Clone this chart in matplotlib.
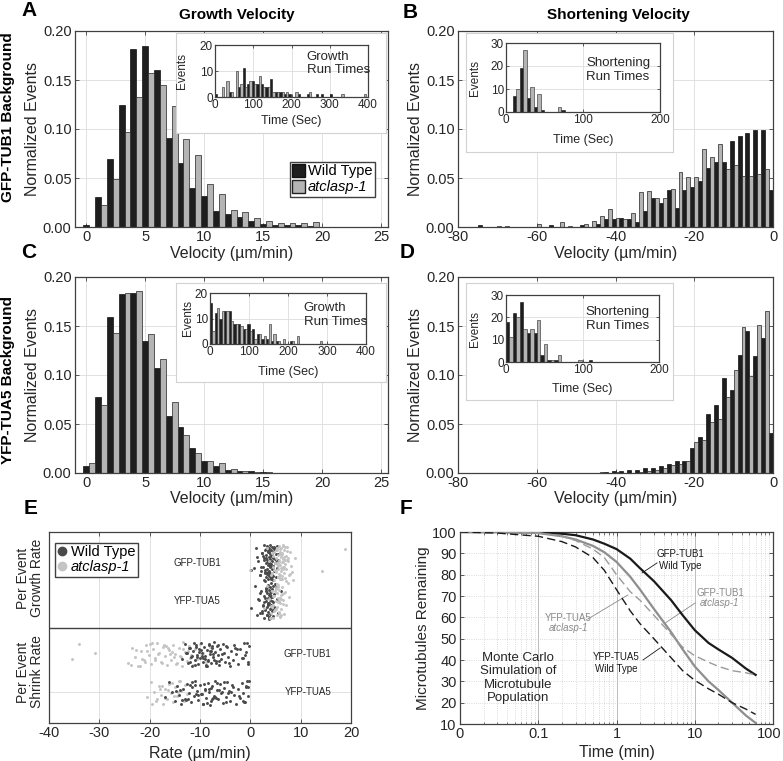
import numpy as np
import matplotlib
matplotlib.use('Agg')
import matplotlib.pyplot as plt
import matplotlib.transforms as mtransforms
from matplotlib.patches import Patch
from matplotlib.lines import Line2D

plt.rcParams['font.family'] = ['Liberation Sans', 'DejaVu Sans']
plt.rcParams['axes.unicode_minus'] = False

W, H = 783, 761

# ---- data ----
growth_bins = np.arange(25)
gfp_growth_wt = [0.002, 0.031, 0.069, 0.124, 0.182, 0.185, 0.160, 0.091, 0.065, 0.040, 0.032, 0.016, 0.013,
                 0.010, 0.006, 0.003, 0.002, 0.002, 0.002, 0.001, 0, 0, 0, 0, 0]
gfp_growth_mut = [0, 0.022, 0.049, 0.097, 0.133, 0.157, 0.145, 0.123, 0.090, 0.073, 0.044, 0.034, 0.017,
                  0.015, 0.009, 0.006, 0.004, 0.004, 0.004, 0.005, 0, 0, 0, 0, 0]
yfp_growth_wt = [0.007, 0.078, 0.159, 0.183, 0.184, 0.135, 0.107, 0.058, 0.047, 0.026, 0.012, 0.007, 0.003,
                 0.002, 0.002, 0.001, 0.0005, 0, 0.0005, 0, 0.0005, 0, 0, 0, 0]
yfp_growth_mut = [0.010, 0.069, 0.143, 0.184, 0.186, 0.142, 0.116, 0.072, 0.039, 0.020, 0.012, 0.010, 0.004,
                  0.002, 0.001, 0.001, 0, 0, 0, 0, 0, 0, 0, 0, 0]

shrink_bins = np.arange(0, -80, -2)
gfp_shrink_wt = [0.038, 0.099, 0.099, 0.096, 0.093, 0.088, 0.066, 0.066, 0.060, 0.047, 0.041, 0.038, 0.019,
                 0.038, 0.025, 0.030, 0.016, 0.005, 0.008, 0.009, 0.008, 0.008, 0.003, 0, 0.002, 0, 0, 0,
                 0.002, 0, 0, 0, 0, 0, 0, 0, 0, 0.002, 0, 0]
gfp_shrink_mut = [0, 0.059, 0.054, 0.052, 0.052, 0.063, 0.059, 0.085, 0.071, 0.080, 0.051, 0.051, 0.056,
                  0.039, 0.030, 0.030, 0.037, 0.036, 0.014, 0.008, 0.009, 0.018, 0.011, 0.006, 0.003, 0,
                  0.001, 0.005, 0, 0, 0.003, 0, 0, 0, 0.001, 0.001, 0, 0, 0, 0]
yfp_shrink_wt = [0.041, 0.138, 0.119, 0.145, 0.120, 0.085, 0.097, 0.069, 0.060, 0.037, 0.026, 0.012, 0.012,
                 0.009, 0.007, 0.005, 0.005, 0.003, 0.003, 0.002, 0.002, 0.001, 0, 0, 0, 0, 0, 0, 0, 0,
                 0, 0, 0, 0, 0, 0, 0, 0, 0, 0]
yfp_shrink_mut = [0, 0.165, 0.151, 0.099, 0.149, 0.105, 0.078, 0.055, 0.052, 0.034, 0.032, 0.012, 0.009,
                  0.008, 0.005, 0.003, 0.002, 0.001, 0, 0, 0.001, 0, 0.001, 0, 0, 0, 0, 0, 0, 0,
                  0, 0, 0, 0, 0, 0, 0, 0, 0, 0]

# run time insets (events per bin)
growth_run_bin = 12
shrink_run_bin = 9
gfp_grun_wt = [1, 0, 0, 2, 0, 4, 11, 5, 6, 5, 5, 4, 7, 2, 2, 1, 1, 0, 1, 0, 1, 0, 1, 1, 0, 1, 0, 0, 0, 0, 0, 0, 0]
gfp_grun_mut = [0, 4, 6, 2, 10, 5, 4, 6, 5, 8, 4, 4, 2, 2, 2, 2, 0, 2, 0, 0, 2, 0, 0, 0, 0, 0, 0, 1, 0, 0, 0, 0, 1]
yfp_grun_wt = [16, 12, 10, 13, 13, 8, 8, 6, 8, 6, 4, 2, 2, 1, 1, 0, 0, 1, 0, 0, 0, 0, 0, 0, 0, 0, 0, 0, 0, 0, 0, 0, 0]
yfp_grun_mut = [5, 14, 13, 13, 9, 8, 7, 6, 5, 2, 4, 3, 8, 4, 1, 2, 0, 1, 3, 0, 0, 0, 0, 1, 0, 0, 0, 0, 0, 0, 0, 0, 0]
gfp_srun_wt = [0, 7, 19, 6, 2, 1, 0, 0, 1, 0, 0, 0, 0, 0, 0, 0, 0, 0, 0, 0, 0, 0]
gfp_srun_mut = [0, 10, 27, 11, 8, 0, 0, 2, 0, 0, 0, 0, 0, 0, 0, 0, 0, 0, 0, 0, 0, 0]
yfp_srun_wt = [18, 22, 27, 13, 13, 3, 1, 1, 0, 0, 0, 0, 1, 0, 0, 0, 0, 0, 0, 0, 0, 0]
yfp_srun_mut = [11, 20, 15, 15, 19, 8, 1, 3, 0, 0, 1, 0, 0, 0, 0, 0, 0, 0, 0, 0, 0, 0]

# per event rates (panel E)
e_gfp_grow_wt = [0.2, 1.1, 1.6, 2.0, 2.3, 2.5, 2.7, 2.8, 2.9, 3.0, 3.1, 3.2, 3.2, 3.3, 3.4, 3.4, 3.5, 3.5, 3.6,
                 3.6, 3.7, 3.7, 3.8, 3.8, 3.8, 3.9, 3.9, 4.0, 4.0, 4.0, 4.1, 4.1, 4.2, 4.2, 4.3, 4.3, 4.4, 4.4,
                 4.5, 4.5, 4.6, 4.6, 4.7, 4.8, 4.9, 5.0, 5.1, 5.2, 5.3, 5.5, 3.3, 3.6, 3.9, 4.2, 2.6, 3.0, 4.8,
                 5.0, 1.9, 2.4, 2.2, 2.9, 3.1, 3.5, 3.7, 3.9, 4.1, 4.3, 4.5, 4.7, 2.7, 3.4, 3.8, 4.0, 4.4,
                 1.4, 2.1, 3.2, 3.6, 4.6, 5.4, 0.7, 2.8, 4.9, 3.0]
e_gfp_grow_mut = [-0.1, 3.3, 3.8, 4.1, 4.4, 4.6, 4.8, 5.0, 5.1, 5.2, 5.3, 5.4, 5.5, 5.5, 5.6, 5.7, 5.7, 5.8,
                  5.9, 5.9, 6.0, 6.0, 6.1, 6.2, 6.2, 6.3, 6.4, 6.5, 6.5, 6.6, 6.7, 6.8, 6.9, 7.0, 7.1, 7.2, 7.4,
                  7.6, 7.8, 8.1, 8.5, 8.9, 14.3, 18.8, 4.9, 5.4, 5.8, 6.1, 6.4, 6.9, 4.3, 7.3, 5.6, 6.3,
                  4.5, 4.8, 5.2, 5.6, 5.9, 6.2, 6.6, 7.0, 7.5, 8.3, 5.0, 5.3, 5.7, 6.0, 6.4, 6.8, 7.2, 7.9,
                  4.7, 5.5, 6.1, 6.7, 5.1, 5.8, 6.5]
e_yfp_grow_wt = [0.2, 0.9, 1.5, 1.9, 2.2, 2.5, 2.7, 2.8, 3.0, 3.1, 3.2, 3.3, 3.4, 3.4, 3.5, 3.6, 3.6, 3.7, 3.7,
                 3.8, 3.8, 3.9, 3.9, 4.0, 4.0, 4.1, 4.1, 4.2, 4.3, 4.3, 4.4, 4.5, 4.6, 4.7, 4.8, 5.0, 5.2, 5.5,
                 6.0, 3.5, 3.9, 4.2, 2.9, 3.3, 4.4, 1.3, 2.0, 2.6, 4.9, 3.0, 2.4, 3.2, 3.6, 3.8, 4.0, 4.2,
                 4.6, 1.7, 2.3, 3.1, 3.5, 3.7, 4.1, 4.5, 5.1, 2.8, 3.4, 3.9]
e_yfp_grow_mut = [2.7, 3.4, 3.8, 4.1, 4.3, 4.5, 4.6, 4.8, 4.9, 5.0, 5.1, 5.2, 5.3, 5.3, 5.4, 5.5, 5.6, 5.7, 5.8,
                  5.9, 6.0, 6.1, 6.2, 6.4, 6.6, 6.8, 7.1, 7.4, 7.7, 4.7, 5.0, 5.5, 5.8, 6.3, 4.4, 5.2, 6.0,
                  5.6, 4.9, 6.5, 3.9, 4.6, 5.1, 5.4, 5.7, 6.1, 6.7, 4.2, 5.3, 5.9]
e_gfp_shrink_wt = [-13.5, -13.0, -12.6, -12.3, -12.0, -11.8, -11.5, -11.3, -11.0, -10.8, -10.6, -10.4, -10.2,
                   -10.0, -9.8, -9.6, -9.4, -9.2, -9.0, -8.8, -8.6, -8.4, -8.2, -8.0, -7.8, -7.6, -7.4, -7.2,
                   -7.0, -6.8, -6.6, -6.4, -6.2, -6.0, -5.8, -5.5, -5.2, -5.0, -4.7, -4.4, -4.1, -3.8, -3.5,
                   -3.2, -2.9, -2.5, -2.1, -1.7, -1.3, -0.9, -0.5, -0.2, -11.6, -10.9, -9.9, -9.1, -8.3, -7.5,
                   -6.9, -12.2, -10.5, -8.7, -7.9, -6.3, -4.9, -1.0, -0.4, -2.7, -9.5, -11.1, -12.8, -11.9,
                   -10.7, -9.7, -8.9, -8.1, -7.3, -6.5, -5.6, -4.3, -3.0, -1.5, -0.7, -10.1, -8.5, -7.7]
e_gfp_shrink_mut = [-35.5, -34.0, -30.8, -24.3, -23.5, -23.0, -22.4, -21.8, -21.2, -20.7, -20.2, -19.8, -19.4,
                    -19.0, -18.6, -18.2, -17.8, -17.4, -17.0, -16.6, -16.2, -15.8, -15.4, -15.0, -14.6, -14.2,
                    -13.8, -13.4, -13.0, -12.6, -12.2, -11.8, -11.4, -11.0, -10.5, -10.0, -9.4, -8.8, -8.0,
                    -7.4, -22.0, -20.5, -18.9, -17.2, -16.0, -14.8, -13.3, -12.0, -19.6, -15.6, -21.0, -16.8,
                    -14.0, -23.8, -22.7, -21.5, -20.0, -18.4, -17.6, -16.4, -15.2, -13.6, -12.4]
e_yfp_shrink_wt = [-17.0, -16.2, -15.6, -15.0, -14.5, -14.1, -13.7, -13.3, -12.9, -12.5, -12.1, -11.8, -11.5,
                   -11.2, -10.9, -10.6, -10.3, -10.0, -9.7, -9.4, -9.1, -8.8, -8.5, -8.2, -7.9, -7.6, -7.3,
                   -7.0, -6.7, -6.4, -6.1, -5.8, -5.5, -5.2, -4.9, -4.6, -4.3, -4.0, -3.6, -3.2, -2.8, -2.4,
                   -2.0, -1.7, -1.4, -1.1, -0.8, -0.5, -0.2, -13.9, -12.7, -11.0, -9.9, -8.6, -7.8, -6.9, -5.3,
                   -3.9, -1.5, -0.9, -10.4, -8.0, -6.2, -12.3, -9.2, -4.4, -1.2, -0.4, -7.1, -11.6, -14.8,
                   -13.5, -12.0, -10.8, -9.5, -8.3, -7.4, -6.6, -5.7, -4.8, -3.4, -2.2, -0.6, -9.0, -7.7]
e_yfp_shrink_mut = [-20.5, -19.8, -19.2, -18.7, -18.2, -17.8, -17.4, -17.0, -16.6, -16.2, -15.8, -15.4, -15.0,
                    -14.6, -14.2, -13.8, -13.4, -13.0, -12.6, -19.5, -18.0, -16.9, -15.6, -14.4, -13.2, -17.6,
                    -15.2, -14.0, -16.4, -18.5]

# Monte Carlo survival curves (panel F)
sim_t = [0.01, 0.03, 0.1, 0.2, 0.3, 0.5, 0.7, 1, 1.5, 2, 3, 5, 7, 10, 15, 20, 30, 45, 60]
gfp_wt_sim = [100, 100, 99.8, 99.2, 98.5, 96.5, 94.5, 92, 87.5, 83, 77, 68, 61, 54, 48, 45, 41, 36, 33]
gfp_mut_sim = [100, 100, 99.5, 98, 96.5, 93.5, 90.5, 86, 79, 73, 64, 53, 45, 37, 30, 26, 20, 14, 10.5]
yfp_mut_sim = [100, 100, 99.5, 98, 96, 92, 88, 80, 72, 68, 61, 52, 46, 42, 39, 37, 35, 34, 33]
yfp_wt_sim = [100, 99.5, 98, 95.5, 93, 88, 82, 73, 63, 57, 50, 41, 35, 30.5, 26.5, 24, 20, 17, 14.5]

DARK = '#1e1e1e'
LIGHT = '#b4b4b4'
SPINE = '#404040'
GRID = '#dcdcdc'
TXT = '#262626'


def px_rect(x0, y0, x1, y1):
  return [x0 / W, 1 - y1 / H, (x1 - x0) / W, (y1 - y0) / H]


def style(ax, size=10.5):
  ax.tick_params(direction='in', top=True, right=True, length=3, width=0.6,
                 labelsize=size, labelcolor=TXT, color=SPINE, pad=2.5)
  for s in ax.spines.values():
    s.set_color(SPINE)
    s.set_linewidth(0.9)
  ax.grid(True, color=GRID, lw=0.6)
  ax.set_axisbelow(True)


def hist_panel(rect, bins, wt, mut, shrink, xlab_y):
  ax = fig.add_axes(px_rect(*rect))
  bins = np.asarray(bins)
  if shrink:
    ax.bar(bins - 0.5, wt, 1.0, color=DARK, edgecolor='#111111', lw=0.5)
    ax.bar(bins + 0.5, mut, 1.0, color=LIGHT, edgecolor='#222222', lw=0.5)
    ax.set_xlim(-80, 0)
    ax.set_xticks(np.arange(-80, 1, 20))
  else:
    ax.bar(bins, wt, 0.5, color=DARK, edgecolor='#111111', lw=0.5)
    ax.bar(bins + 0.5, mut, 0.5, color=LIGHT, edgecolor='#222222', lw=0.5)
    ax.set_xlim(-0.95, 25.6)
    ax.set_xticks(np.arange(0, 26, 5))
  ax.set_ylim(0, 0.2)
  ax.set_yticks([0, 0.05, 0.10, 0.15, 0.20])
  ax.set_yticklabels(['0.00', '0.05', '0.10', '0.15', '0.20'])
  style(ax)
  ax.set_ylabel('Normalized Events', fontsize=11.5, color=TXT)
  ax.yaxis.set_label_coords(-0.112, 0.5)
  ax.set_xlabel('Velocity (µm/min)', fontsize=11.5, color=TXT)
  ax.xaxis.set_label_coords(0.5, xlab_y)
  return ax


def inset(outer, inner, binw, wt, mut, xmax, ymax, label, txy, xlab_y, ylab_x):
  box = fig.add_axes(px_rect(*outer))
  box.set_xticks([])
  box.set_yticks([])
  for s in box.spines.values():
    s.set_color('#d2d2d2')
    s.set_linewidth(0.8)
  ax = fig.add_axes(px_rect(*inner))
  t = np.arange(len(wt)) * binw
  ax.bar(t + binw / 4, wt, binw / 2, color=DARK, edgecolor='#111111', lw=0.4)
  ax.bar(t + 3 * binw / 4, mut, binw / 2, color=LIGHT, edgecolor='#222222', lw=0.4)
  ax.set_xlim(0, xmax)
  ax.set_ylim(0, ymax)
  ax.set_xticks(np.arange(0, xmax + 1, 100))
  ax.set_yticks(np.arange(0, ymax + 1, 10))
  style(ax, 8.5)
  ax.tick_params(length=2, pad=1.5)
  ax.set_ylabel('Events', fontsize=8.5, color=TXT)
  ax.yaxis.set_label_coords(ylab_x, 0.5)
  ax.set_xlabel('Time (Sec)', fontsize=9, color=TXT)
  ax.xaxis.set_label_coords(0.5, xlab_y)
  ax.text(txy[0], txy[1], label, transform=ax.transAxes, ha='left', va='center',
          fontsize=9.5, color=TXT, linespacing=1.15)


fig = plt.figure(figsize=(W / 100, H / 100), dpi=100)

# ---- A ----
axA = hist_panel((75, 31, 388, 227), growth_bins, gfp_growth_wt, gfp_growth_mut, False, -0.095)
axA.legend(handles=[Patch(facecolor=DARK, edgecolor='#111111', label='Wild Type'),
                    Patch(facecolor=LIGHT, edgecolor='#222222', label='atclasp-1')],
           loc='lower right', bbox_to_anchor=(0.957, 0.155), fontsize=10.5, frameon=True,
           fancybox=False, edgecolor=SPINE, framealpha=1, borderpad=0.15, handlelength=0.9,
           handleheight=1.0, handletextpad=0.2, labelspacing=0.1, borderaxespad=0)
for txt in axA.get_legend().get_texts():
  if txt.get_text() == 'atclasp-1':
    txt.set_style('italic')
inset((176, 33, 386, 133), (215, 45, 368, 97), growth_run_bin, gfp_grun_wt, gfp_grun_mut,
      400, 20, 'Growth\nRun Times', (0.60, 0.64), -0.35, -0.176)

# ---- B ----
hist_panel((458, 31, 773, 227), shrink_bins, gfp_shrink_wt, gfp_shrink_mut, True, -0.095)
inset((466, 33, 673, 152), (506, 43, 660, 112), shrink_run_bin, gfp_srun_wt, gfp_srun_mut,
      200, 30, 'Shortening\nRun Times', (0.52, 0.61), -0.32, -0.162)

# ---- C ----
hist_panel((75, 277, 388, 473), growth_bins, yfp_growth_wt, yfp_growth_mut, False, -0.094)
inset((176, 283, 386, 382), (210, 293, 366, 344), growth_run_bin, yfp_grun_wt, yfp_grun_mut,
      400, 20, 'Growth\nRun Times', (0.60, 0.57), -0.43, -0.10)

# ---- D ----
hist_panel((458, 277, 773, 473), shrink_bins, yfp_shrink_wt, yfp_shrink_mut, True, -0.094)
inset((466, 283, 673, 400), (506, 295, 659, 362), shrink_run_bin, yfp_srun_wt, yfp_srun_mut,
      200, 30, 'Shortening\nRun Times', (0.52, 0.64), -0.31, -0.162)

# ---- E ----
axE = fig.add_axes(px_rect(49, 532, 351, 723))
E_WT = '#4a4a4a'
E_MUT = '#c4c4c4'
rows = [(4.2, 0.47, e_gfp_grow_wt, e_gfp_grow_mut, True),
        (3.2, 0.47, e_yfp_grow_wt, e_yfp_grow_mut, True),
        (1.8, 0.32, e_gfp_shrink_wt, e_gfp_shrink_mut, False),
        (0.8, 0.32, e_yfp_shrink_wt, e_yfp_shrink_mut, False)]
for yrow, spread, wt, mut, light_on_top in rows:
  order = ((wt, E_WT), (mut, E_MUT)) if light_on_top else ((mut, E_MUT), (wt, E_WT))
  for vals, col in order:
    n = len(vals)
    off = ((np.arange(n) * 0.6180339887 + 0.3) % 1 - 0.5) * 2 * spread
    axE.scatter(vals, yrow + off, s=4.5, color=col, linewidths=0, zorder=3)
axE.axhline(2.5, color=SPINE, lw=1.0, zorder=4)
axE.axhline(0.8, color=GRID, lw=0.6, zorder=1)
axE.set_xlim(-40, 20)
axE.set_ylim(0, 5)
axE.set_xticks(np.arange(-40, 21, 10))
axE.set_yticks([])
style(axE)
axE.grid(True, axis='x', color=GRID, lw=0.6)
axE.grid(False, axis='y')
axE.text(-10.6, 4.2, 'GFP-TUB1', fontsize=7, ha='center', va='center', color=TXT)
axE.text(-10.6, 3.2, 'YFP-TUA5', fontsize=7, ha='center', va='center', color=TXT)
axE.text(11.3, 1.8, 'GFP-TUB1', fontsize=7, ha='center', va='center', color=TXT)
axE.text(11.5, 0.8, 'YFP-TUA5', fontsize=7, ha='center', va='center', color=TXT)
axE.set_xlabel('Rate (µm/min)', fontsize=11.5, color=TXT)
axE.xaxis.set_label_coords(0.5, -0.118)
legE = axE.legend(handles=[Line2D([], [], marker='o', ls='none', color=E_WT, markersize=6, label='Wild Type'),
                           Line2D([], [], marker='o', ls='none', color=E_MUT, markersize=6, label='atclasp-1')],
                  loc='upper left', bbox_to_anchor=(0.02, 0.945), fontsize=10.5, frameon=True,
                  fancybox=False, edgecolor=SPINE, framealpha=1, borderpad=0.2, handlelength=0.6,
                  handletextpad=0.3, labelspacing=0.05, borderaxespad=0)
legE.get_texts()[1].set_style('italic')
fig.text(30 / W, 1 - 578 / H, 'Per Event\nGrowth Rate', rotation=90, ha='center', va='center',
         fontsize=10, color=TXT, linespacing=1.0)
fig.text(30 / W, 1 - 672 / H, 'Per Event\nShrink Rate', rotation=90, ha='center', va='center',
         fontsize=10, color=TXT, linespacing=1.0)

# ---- F ----
axF = fig.add_axes(px_rect(460, 532, 773, 724))
axF.set_xscale('log')
axF.plot(sim_t, gfp_wt_sim, color='#1a1a1a', lw=1.6, zorder=3)
axF.plot(sim_t, gfp_mut_sim, color='#8e8e8e', lw=1.6, zorder=3)
axF.plot(sim_t, yfp_mut_sim, color='#9a9a9a', lw=1.0, ls=(0, (6, 3)), zorder=3)
axF.plot(sim_t, yfp_wt_sim, color='#1a1a1a', lw=1.0, ls=(0, (6, 3)), zorder=3)
axF.set_xlim(0.01, 100)
axF.set_ylim(10, 100)
axF.set_xticks([0.01, 0.1, 1, 10, 100])
axF.set_xticklabels(['0', '0.1', '1', '10', '100'])
axF.set_yticks(np.arange(10, 101, 10))
style(axF)
axF.grid(False)
axF.grid(True, which='major', axis='x', color='#bcbcbc', lw=0.7)
axF.grid(True, which='minor', axis='x', color='#cfcfcf', lw=0.6, ls=':')
axF.grid(True, which='major', axis='y', color='#cfcfcf', lw=0.6, ls=':')
axF.tick_params(which='minor', direction='in', top=True, length=1.8, width=0.5, color=SPINE)
# keep the last tick label inside the canvas
last = axF.get_xticklabels()[-1]
last.set_transform(last.get_transform() + mtransforms.ScaledTranslation(-4 / 100, 0, fig.dpi_scale_trans))
axF.set_xlabel('Time (min)', fontsize=11.5, color=TXT)
axF.xaxis.set_label_coords(0.5, -0.107)
axF.set_ylabel('Microtubules Remaining', fontsize=11, color=TXT)
axF.yaxis.set_label_coords(-0.095, 0.5)
GREY_TXT = '#8a8a8a'
axF.text(6.47, 86.9, 'GFP-TUB1\nWild Type', fontsize=7, ha='center', va='center', color='#1a1a1a')
axF.plot([3.3, 2.12], [85.5, 80.8], color='#1a1a1a', lw=0.6)
axF.text(21, 69, 'GFP-TUB1', fontsize=7, ha='center', va='bottom', color=GREY_TXT)
axF.text(21, 69, 'atclasp-1', fontsize=7, ha='center', va='top', color=GREY_TXT, style='italic')
axF.plot([10.1, 4.17], [66.7, 57.3], color=GREY_TXT, lw=0.6)
axF.text(0.24, 57.3, 'YFP-TUA5', fontsize=7, ha='center', va='bottom', color=GREY_TXT)
axF.text(0.24, 57.3, 'atclasp-1', fontsize=7, ha='center', va='top', color=GREY_TXT, style='italic')
axF.plot([0.43, 1.40], [59.2, 70.5], color=GREY_TXT, lw=0.6)
axF.text(0.99, 38.6, 'YFP-TUA5\nWild Type', fontsize=7, ha='center', va='center', color='#1a1a1a')
axF.plot([2.18, 3.6], [40, 45.6], color='#1a1a1a', lw=0.6)
axF.text(0.055, 31.6, 'Monte Carlo\nSimulation of\nMicrotubule\nPopulation', fontsize=9.5,
         ha='center', va='center', color=TXT, linespacing=1.15)

# ---- figure labels ----
for letter, x, y in [('A', 29, 10), ('B', 410, 12), ('C', 29, 252), ('D', 407, 252),
                     ('E', 31, 509), ('F', 406, 509)]:
  fig.text(x / W, 1 - y / H, letter, fontsize=15, fontweight='bold', ha='center', va='center')
fig.text(237 / W, 1 - 15 / H, 'Growth Velocity', fontsize=11, fontweight='bold', ha='center', va='center')
fig.text(618 / W, 1 - 15 / H, 'Shortening Velocity', fontsize=11, fontweight='bold', ha='center', va='center')
fig.text(8 / W, 1 - 117 / H, 'GFP-TUB1 Background', fontsize=11, fontweight='bold', rotation=90,
         ha='center', va='center')
fig.text(8 / W, 1 - 380 / H, 'YFP-TUA5 Background', fontsize=11, fontweight='bold', rotation=90,
         ha='center', va='center')

fig.savefig('out.png', dpi=100)
